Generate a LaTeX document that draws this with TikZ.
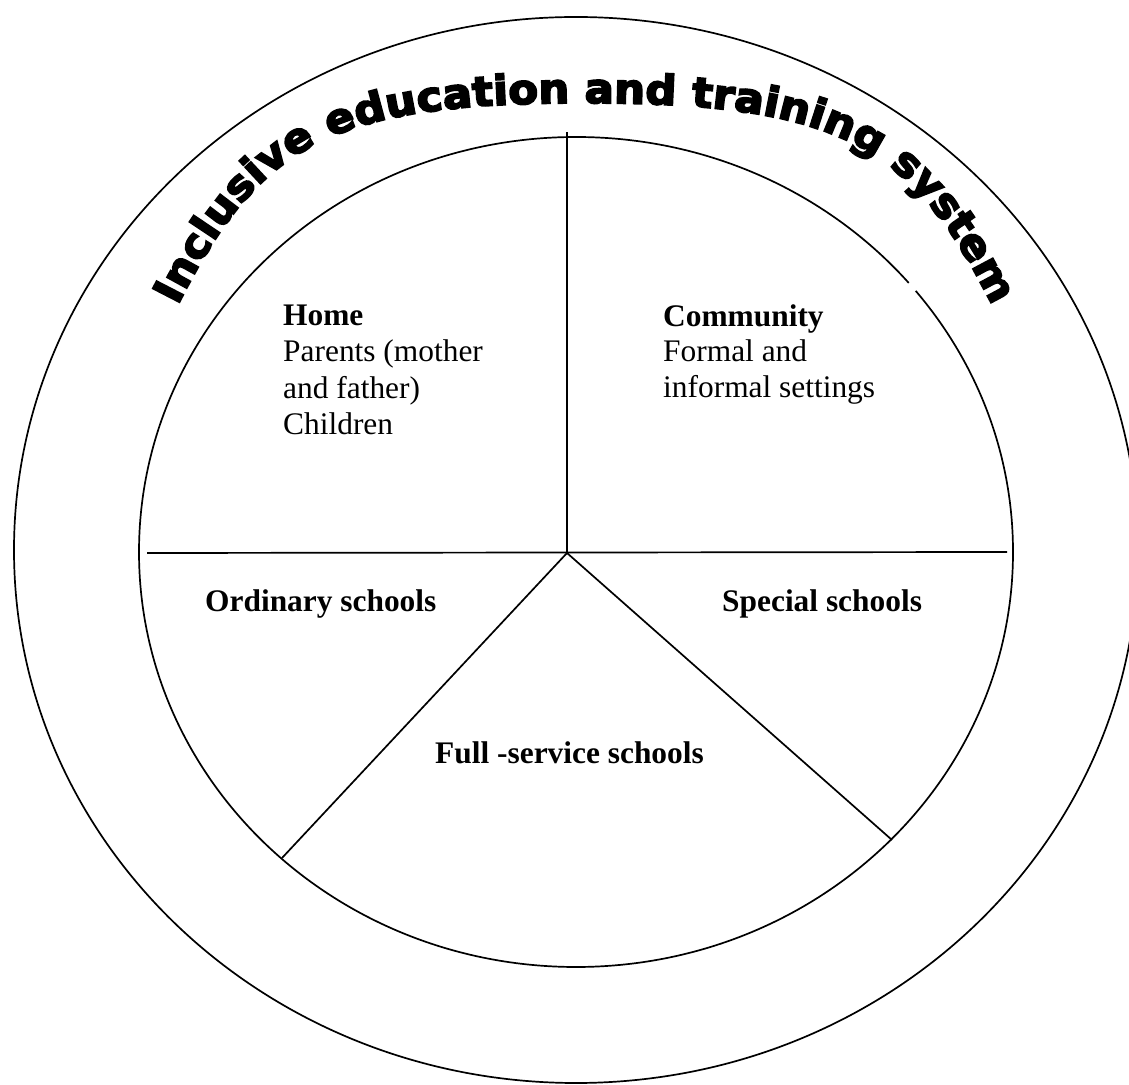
\documentclass[tikz,border=0pt]{standalone}
\usepackage{fontspec}
\setmainfont{Liberation Serif}
\newfontfamily\archfont[FakeBold=4.5, FakeStretch=1.06]{DejaVu Sans}
\usetikzlibrary{decorations.text}
\begin{document}
\begin{tikzpicture}[x=1pt,y=1pt,
  ring/.style={line width=1.7pt},
  spoke/.style={line width=1.7pt},
  lbl/.style={anchor=base west, inner sep=0pt, font=\fontsize{31.4}{36.5}\selectfont},
  blbl/.style={anchor=base west, inner sep=0pt, font=\bfseries\fontsize{31.4}{36.5}\selectfont}]
\useasboundingbox (0,0) rectangle (1129,1084);
\clip (0,0) rectangle (1129,1084);
% rings
\draw[ring] (576,534) ellipse [x radius=562, y radius=533];
\draw[ring] (576,532) ellipse [x radius=437, y radius=415];
% small break in the inner ring (as in the scan)
\draw[white, line width=4pt] (576,532) ++(39.0:437 and 415) arc[start angle=39.0, end angle=40.4, x radius=437, y radius=415];
% spokes
\coordinate (c) at (567,531);
\coordinate (top) at (567,952);
\coordinate (left) at (147,531);
\coordinate (right) at (1007,532);
\coordinate (sw) at (282,226);
\coordinate (se) at (892,244);
\draw[spoke] (c) -- (top);
\draw[spoke] (left) -- (right);
\draw[spoke] (c) -- (sw);
\draw[spoke] (c) -- (se);
% arched title along its baseline
\coordinate (tA) at (178,779);
\coordinate (tB) at (585,981);
\coordinate (tC) at (992,779);
\path[decorate, decoration={text along path, text align=center,
  text={|\archfont\bfseries\fontsize{41}{41}\selectfont|Inclusive education and training system}}]
  (tA) .. controls (259,939) and (330,981) .. (tB) .. controls (840,981) and (911,939) .. (tC);
% sector labels
\node[blbl] (home1) at (283,758) {Home};
\node[lbl]  (home2) at (283,722) {Parents (mother};
\node[lbl]  (home3) at (283,685) {and father)};
\node[lbl]  (home4) at (283,649) {Children};
\node[blbl] (com1) at (663,757) {Community};
\node[lbl]  (com2) at (663,722) {Formal and};
\node[lbl]  (com3) at (663,686) {informal settings};
\node[blbl] (ord) at (205,472) {Ordinary schools};
\node[blbl] (spe) at (722,472) {Special schools};
\node[blbl] (ful) at (435,320) {Full -service schools};
\end{tikzpicture}
\end{document}
